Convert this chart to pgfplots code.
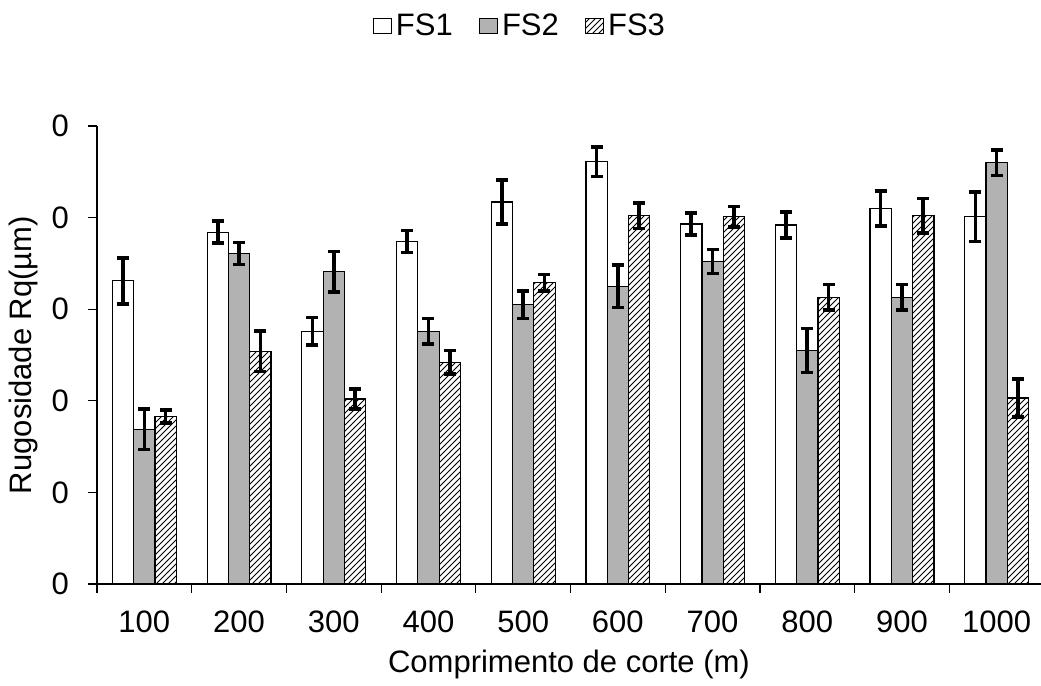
\documentclass[border=0pt]{standalone}
\usepackage{fontspec}
\setmainfont{Liberation Sans}
\usepackage{pgfplots}
\pgfplotsset{compat=1.18}
\usepackage{pgfplotstable}
\usetikzlibrary{patterns}
\definecolor{fsgray}{HTML}{B2B2B2}
\pgfplotstableread{
x FS1 e1 FS2 e2 FS3 e3
0 3.31 0.25 1.69 0.22 1.83 0.07
1 3.84 0.12 3.61 0.12 2.54 0.22
2 2.76 0.15 3.41 0.22 2.02 0.11
3 3.74 0.12 2.76 0.14 2.42 0.13
4 4.17 0.24 3.05 0.15 3.29 0.09
5 4.61 0.16 3.25 0.23 4.02 0.14
6 3.93 0.12 3.52 0.13 4.01 0.11
7 3.92 0.14 2.55 0.24 3.13 0.14
8 4.10 0.19 3.13 0.14 4.02 0.19
9 4.01 0.27 4.60 0.14 2.03 0.21
}\datatable
\begin{document}
\begin{tikzpicture}
\path[use as bounding box] (-48.5pt,-51pt) rectangle (472pt,292pt);
\begin{axis}[
  at={(0pt,0pt)}, anchor=south west,
  scale only axis,
  width=472pt, height=229pt,
  xmin=-0.5, xmax=9.468,
  ymin=0, ymax=5,
  axis x line*=bottom, axis y line*=left,
  axis line style={-, line width=0.6pt},
  ybar=0pt, bar width=10.65pt,
  xtick={-0.5,0.5,...,8.5},
  xticklabels={100,200,300,400,500,600,700,800,900,1000},
  x tick label style={xshift=23.675pt, yshift=-5.5pt},
  y tick label style={xshift=-6pt},
  ytick={0,1,2,3,4,5},
  yticklabels={0,0,0,0,0,0},
  tick align=outside,
  major tick length=4.5pt,
  tick style={black, line width=0.6pt},
  /pgf/number format/assume math mode=true,
  tick label style={font=\fontsize{15.5}{18}\selectfont},
  label style={font=\fontsize{15.5}{18}\selectfont},
  xlabel={Comprimento de corte (m)},
  ylabel={Rugosidade Rq(µm)},
  xlabel style={at={(axis description cs:0.5,-0.175)}, anchor=center},
  ylabel style={at={(axis description cs:-0.0784,0.5)}, anchor=center},
  legend columns=3,
  legend style={draw=none, fill=none, at={(axis description cs:0.449,1.219)}, anchor=center,
    font=\fontsize{15.5}{18}\selectfont,
    /tikz/every even column/.append style={column sep=11pt}},
  error bars/y dir=both, error bars/y explicit,
  error bars/error bar style={line width=1.8pt, black},
  error bars/error mark options={rotate=90, mark size=3pt, line width=1.8pt, black},
]
\addplot[draw=black, line width=0.6pt, fill=white,
  legend image code/.code={\draw[draw=black,line width=0.6pt,fill=white] (0pt,-3.75pt) rectangle (9pt,3.75pt);}]
  table[x=x, y=FS1, y error=e1] {\datatable};
\addplot[draw=black, line width=0.6pt, fill=fsgray,
  legend image code/.code={\draw[draw=black,line width=0.6pt,fill=fsgray] (0pt,-3.75pt) rectangle (9pt,3.75pt);}]
  table[x=x, y=FS2, y error=e2] {\datatable};
\addplot[draw=black, line width=0.6pt, pattern=north east lines, pattern color=black,
  legend image code/.code={\draw[draw=black,line width=0.6pt,pattern=north east lines] (0pt,-3.75pt) rectangle (9pt,3.75pt);}]
  table[x=x, y=FS3, y error=e3] {\datatable};
\legend{FS1,FS2,FS3}
\end{axis}
\end{tikzpicture}
\end{document}
